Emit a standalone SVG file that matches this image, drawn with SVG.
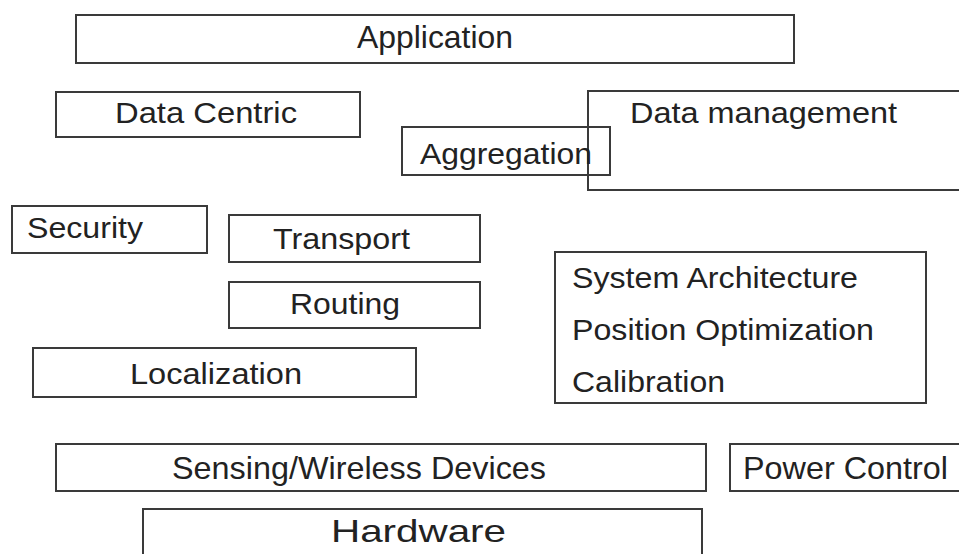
<svg xmlns="http://www.w3.org/2000/svg" width="959" height="554" viewBox="0 0 959 554">
<style>
.box{fill:none;stroke:#3a3a3a;stroke-width:2}
.t{font-family:"Liberation Sans",Arial,sans-serif;font-size:29px;fill:#222}
.n{font-size:32px}
</style>
<rect width="959" height="554" fill="#fff"/>
<g id="application"><rect class="box" x="76" y="15" width="718" height="48"/><text class="t n" x="357" y="48" textLength="156" lengthAdjust="spacingAndGlyphs">Application</text></g>
<g id="data-centric"><rect class="box" x="56" y="92" width="304" height="45"/><text class="t" x="115" y="123" textLength="182" lengthAdjust="spacingAndGlyphs">Data Centric</text></g>
<g id="data-management"><rect class="box" x="588" y="91" width="380" height="99"/><text class="t" x="630" y="123" textLength="267" lengthAdjust="spacingAndGlyphs">Data management</text></g>
<g id="aggregation"><rect class="box" x="402" y="127" width="208" height="48"/><text class="t" x="420" y="164" textLength="172" lengthAdjust="spacingAndGlyphs">Aggregation</text></g>
<g id="security"><rect class="box" x="12" y="206" width="195" height="47"/><text class="t" x="27" y="238" textLength="116" lengthAdjust="spacingAndGlyphs">Security</text></g>
<g id="transport"><rect class="box" x="229" y="215" width="251" height="47"/><text class="t" x="273" y="249" textLength="137" lengthAdjust="spacingAndGlyphs">Transport</text></g>
<g id="routing"><rect class="box" x="229" y="282" width="251" height="46"/><text class="t" x="290" y="314" textLength="110" lengthAdjust="spacingAndGlyphs">Routing</text></g>
<g id="localization"><rect class="box" x="33" y="348" width="383" height="49"/><text class="t" x="130" y="384" textLength="172" lengthAdjust="spacingAndGlyphs">Localization</text></g>
<g id="system"><rect class="box" x="555" y="252" width="371" height="151"/>
<text class="t" x="572" y="288" textLength="286" lengthAdjust="spacingAndGlyphs">System Architecture</text>
<text class="t" x="572" y="340" textLength="302" lengthAdjust="spacingAndGlyphs">Position Optimization</text>
<text class="t" x="572" y="392" textLength="153" lengthAdjust="spacingAndGlyphs">Calibration</text></g>
<g id="sensing"><rect class="box" x="56" y="444" width="650" height="47"/><text class="t n" x="172" y="479" textLength="374" lengthAdjust="spacingAndGlyphs">Sensing/Wireless Devices</text></g>
<g id="power-control"><rect class="box" x="730" y="444" width="240" height="47"/><text class="t n" x="743" y="479" textLength="205" lengthAdjust="spacingAndGlyphs">Power Control</text></g>
<g id="hardware"><rect class="box" x="143" y="509" width="559" height="60"/><text class="t n" x="331" y="542" textLength="175" lengthAdjust="spacingAndGlyphs">Hardware</text></g>
<g id="connectors"></g>
</svg>
